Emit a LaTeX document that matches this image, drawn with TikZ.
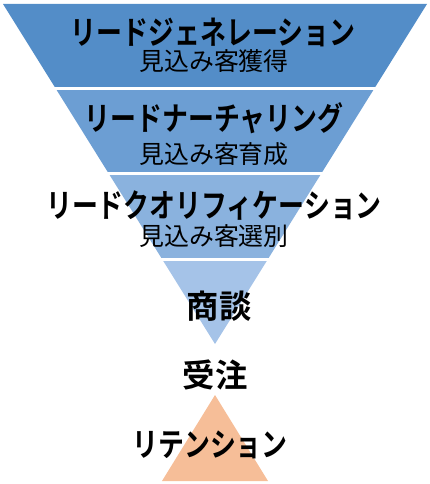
\documentclass[tikz,border=0pt]{standalone}
\usepackage{tikz}
\usepackage{xcolor}
\usepackage{fontspec}
\usetikzlibrary{calc}

\newfontfamily\stagefont{Noto Sans CJK JP Bold}[FakeStretch=0.8]
\newfontfamily\kanjifont{Noto Sans CJK JP Bold}
\newfontfamily\subfont{Noto Sans CJK JP}

\definecolor{stageA}{RGB}{83,141,200}
\definecolor{stageB}{RGB}{108,158,211}
\definecolor{stageC}{RGB}{138,178,222}
\definecolor{stageD}{RGB}{165,195,232}
\definecolor{retain}{RGB}{246,190,152}

\tikzset{
	stage/.style={inner sep=0pt, font=\stagefont\fontsize{32.5}{32.5}\selectfont},
	word/.style={inner sep=0pt, font=\kanjifont\fontsize{32.5}{32.5}\selectfont},
	sub/.style={inner sep=0pt, font=\subfont\fontsize{25}{25}\selectfont},
	cut/.style={white, line width=3bp, shorten <=-4bp, shorten >=-4bp}
}

\begin{document}
\begin{tikzpicture}[x=1bp,y=-1bp]
				\useasboundingbox (0,0) rectangle (429,484);
				
				\coordinate (TL) at (3,4);
				\coordinate (TR) at (427,4);
				\coordinate (A) at (215,344);
				
				\coordinate (L1) at ($(TL)!0.25!(A)$);
				\coordinate (R1) at ($(TR)!0.25!(A)$);
				\coordinate (L2) at ($(TL)!0.5!(A)$);
				\coordinate (R2) at ($(TR)!0.5!(A)$);
				\coordinate (L3) at ($(TL)!0.75!(A)$);
				\coordinate (R3) at ($(TR)!0.75!(A)$);
				
				\coordinate (P1) at (162,481);
				\coordinate (P2) at (268,481);
				\coordinate (P3) at (215,395);
				
				% funnel
				\fill[stageA] (TL) -- (TR) -- (R1) -- (L1) -- cycle;
				\fill[stageB] (L1) -- (R1) -- (R2) -- (L2) -- cycle;
				\fill[stageC] (L2) -- (R2) -- (R3) -- (L3) -- cycle;
				\fill[stageD] (L3) -- (R3) -- (A) -- cycle;
				
				\draw[cut] (L1) -- (R1);
				\draw[cut] (L2) -- (R2);
				\draw[cut] (L3) -- (R3);
				
				\fill[retain] (P1) -- (P2) -- (P3) -- cycle;
				
				\node (gen) at (213,32) [stage] {リードジェネレーション};
				\node (gensub) at (214,61) [sub] {見込み客獲得};
				\node (nur) at (214,118) [stage] {リードナーチャリング};
				\node (nursub) at (214,154) [sub] {見込み客育成};
				\node (qual) at (214,206) [stage] {リードクオリフィケーション};
				\node (qualsub) at (214,236) [sub] {見込み客選別};
				\node (deal) at (219,306) [word] {商談};
				\node (order) at (215,375) [word] {受注};
				\node (ret) at (210,445) [stage] {リテンション};
			\end{tikzpicture}
\end{document}
